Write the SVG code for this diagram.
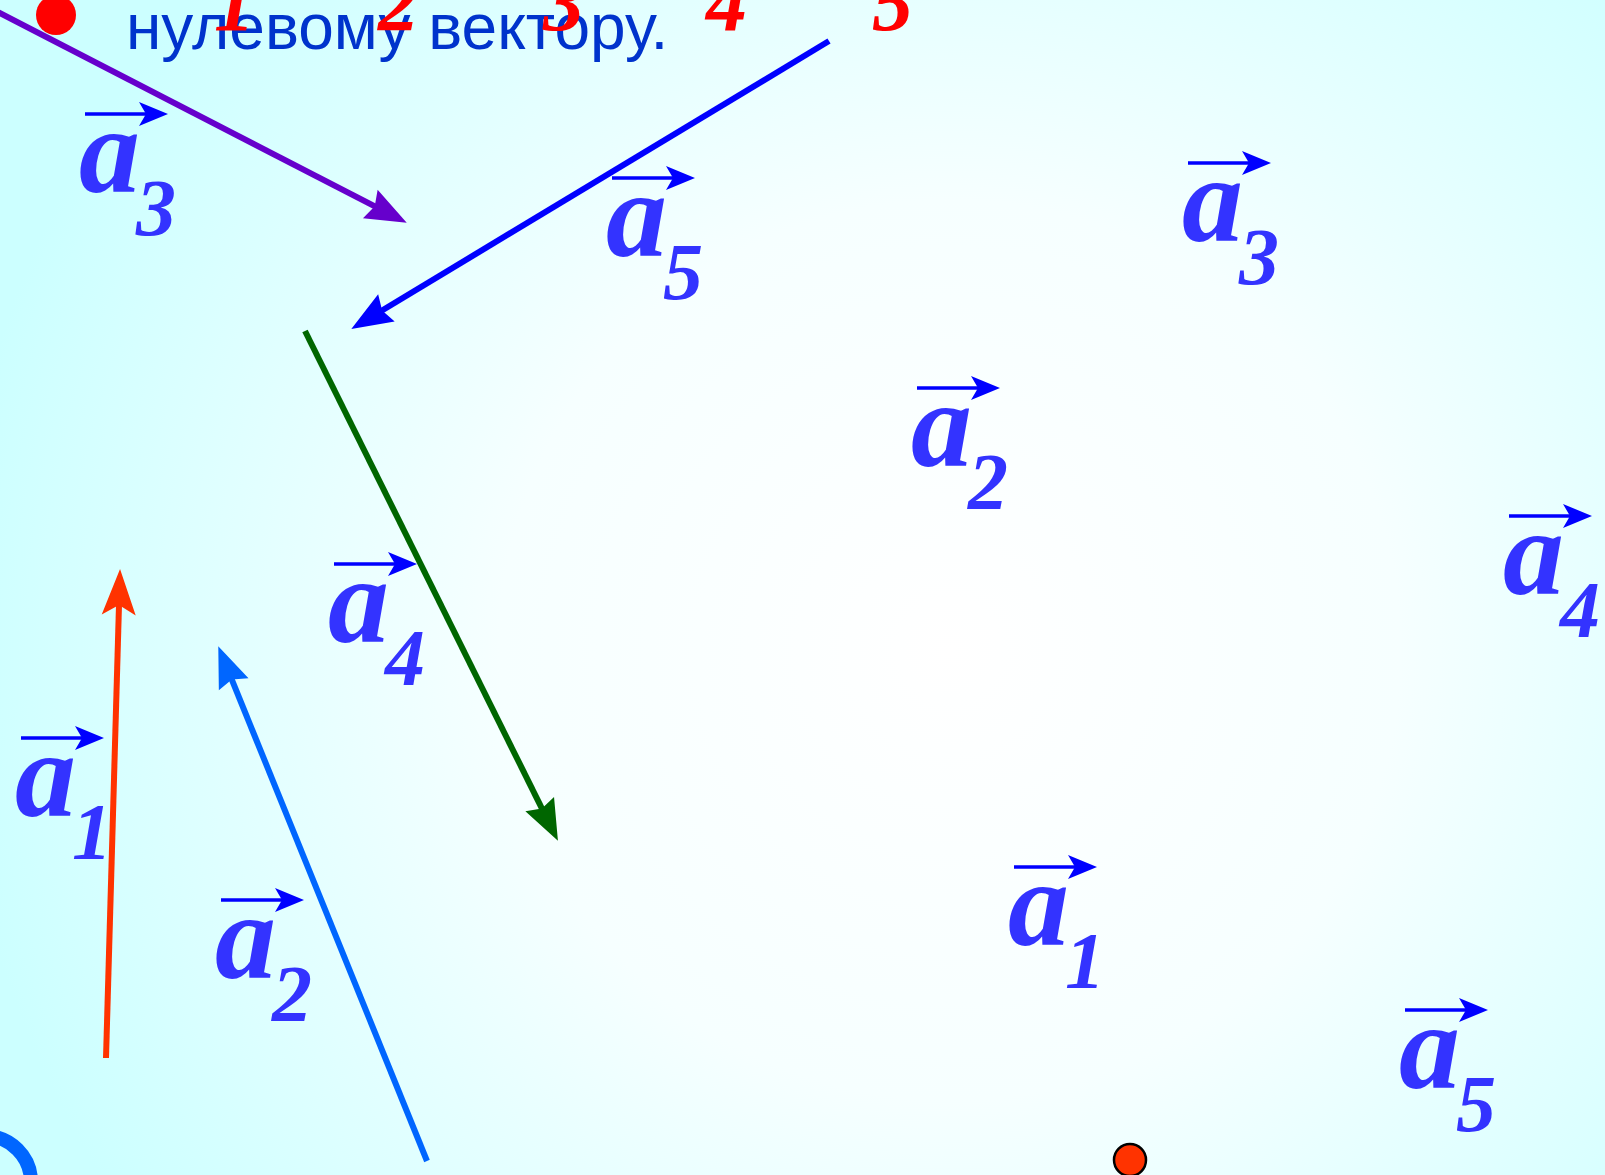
<svg xmlns="http://www.w3.org/2000/svg" width="1605" height="1175" viewBox="0 0 1605 1175">
<defs>
<radialGradient id="bg" gradientUnits="userSpaceOnUse" cx="950" cy="650" r="1000">
<stop offset="0" stop-color="#FFFFFF"/>
<stop offset="0.45" stop-color="#F6FFFF"/>
<stop offset="1" stop-color="#CCFFFF"/>
</radialGradient>
<marker id="mPurple" markerUnits="userSpaceOnUse" orient="auto" overflow="visible" markerWidth="1" markerHeight="1" refX="0" refY="0"><path d="M32 0 L-9 -16 L-4 0 L-9 16 Z" fill="#6600CC"/></marker>
<marker id="mBlue" markerUnits="userSpaceOnUse" orient="auto" overflow="visible" markerWidth="1" markerHeight="1" refX="0" refY="0"><path d="M32 0 L-9 -16 L-4 0 L-9 16 Z" fill="#0000FF"/></marker>
<marker id="mGreen" markerUnits="userSpaceOnUse" orient="auto" overflow="visible" markerWidth="1" markerHeight="1" refX="0" refY="0"><path d="M32 0 L-9 -16 L-4 0 L-9 16 Z" fill="#006600"/></marker>
<marker id="mRed" markerUnits="userSpaceOnUse" orient="auto" overflow="visible" markerWidth="1" markerHeight="1" refX="0" refY="0"><path d="M36 0 L-10 -17 L0 0 L-10 17 Z" fill="#FF3300"/></marker>
<marker id="mLblue" markerUnits="userSpaceOnUse" orient="auto" overflow="visible" markerWidth="1" markerHeight="1" refX="0" refY="0"><path d="M32 0 L-9 -16 L-4 0 L-9 16 Z" fill="#0066FF"/></marker>
<g id="vecsym">
<line x1="6" y1="-78" x2="72" y2="-78" stroke="#0000FF" stroke-width="3.5"/>
<path d="M89 -78 L60 -90 L67 -78 L60 -66 Z" fill="#0000FF"/>
</g>
</defs>
<style>
.a{font-family:"Liberation Serif","Times New Roman",serif;font-style:italic;font-weight:bold;font-size:122px;fill:#3333FF}
.sub{font-family:"Liberation Serif","Times New Roman",serif;font-style:italic;font-weight:bold;font-size:80px;fill:#3333FF}
.num{font-family:"Liberation Serif","Times New Roman",serif;font-style:italic;font-weight:bold;font-size:82px;fill:#FF0000}
.txt{font-family:"Liberation Sans",Arial,sans-serif;font-size:64px;fill:#0033CC}
.vec{fill:none;stroke-linecap:butt}
</style>
<rect width="1605" height="1175" fill="url(#bg)"/>

<g id="header">
<circle cx="56" cy="15" r="20" fill="#FF0000"/>
<text class="txt" x="126" y="49">нулевому вектору.</text>
<text class="num" x="214" y="30">1</text>
<text class="num" x="378" y="30">2</text>
<text class="num" x="543" y="30">3</text>
<text class="num" x="706" y="30">4</text>
<text class="num" x="872" y="30">5</text>
</g>

<g id="connectors">
<line class="vec" x1="-2" y1="12" x2="378.3" y2="208.2" stroke="#6600CC" stroke-width="6" marker-end="url(#mPurple)"/>
<line class="vec" x1="829" y1="41" x2="378.7" y2="312.5" stroke="#0000FF" stroke-width="6" marker-end="url(#mBlue)"/>
<line class="vec" x1="305" y1="331" x2="543.7" y2="812.1" stroke="#006600" stroke-width="6" marker-end="url(#mGreen)"/>
<line class="vec" x1="106" y1="1058" x2="119" y2="605" stroke="#FF3300" stroke-width="6" marker-end="url(#mRed)"/>
<line class="vec" x1="427" y1="1161" x2="230.3" y2="675.8" stroke="#0066FF" stroke-width="6" marker-end="url(#mLblue)"/>
<circle cx="-15" cy="1182" r="46" fill="none" stroke="#0066FF" stroke-width="14"/>
</g>

<g id="label-a3-left" transform="translate(79,192)">
<use href="#vecsym"/><text class="a" x="0" y="0">a</text><text class="sub" x="57" y="43">3</text>
</g>
<g id="label-a5-top" transform="translate(606,256)">
<use href="#vecsym"/><text class="a" x="0" y="0">a</text><text class="sub" x="57" y="43">5</text>
</g>
<g id="label-a3-right" transform="translate(1182,241)">
<use href="#vecsym"/><text class="a" x="0" y="0">a</text><text class="sub" x="57" y="43">3</text>
</g>
<g id="label-a2-mid" transform="translate(911,466)">
<use href="#vecsym"/><text class="a" x="0" y="0">a</text><text class="sub" x="57" y="43">2</text>
</g>
<g id="label-a4-right" transform="translate(1503,594)">
<use href="#vecsym"/><text class="a" x="0" y="0">a</text><text class="sub" x="57" y="43">4</text>
</g>
<g id="label-a4-left" transform="translate(328,642)">
<use href="#vecsym"/><text class="a" x="0" y="0">a</text><text class="sub" x="57" y="43">4</text>
</g>
<g id="label-a1-left" transform="translate(15,816)">
<use href="#vecsym"/><text class="a" x="0" y="0">a</text><text class="sub" x="57" y="43">1</text>
</g>
<g id="label-a2-bottom" transform="translate(215,978)">
<use href="#vecsym"/><text class="a" x="0" y="0">a</text><text class="sub" x="57" y="43">2</text>
</g>
<g id="label-a1-right" transform="translate(1008,945)">
<use href="#vecsym"/><text class="a" x="0" y="0">a</text><text class="sub" x="57" y="43">1</text>
</g>
<g id="label-a5-bottom" transform="translate(1399,1088)">
<use href="#vecsym"/><text class="a" x="0" y="0">a</text><text class="sub" x="57" y="43">5</text>
</g>

<g id="zero-vector">
<circle cx="1130" cy="1160" r="16" fill="#FF3300" stroke="#000000" stroke-width="2.5"/>
</g>
</svg>
